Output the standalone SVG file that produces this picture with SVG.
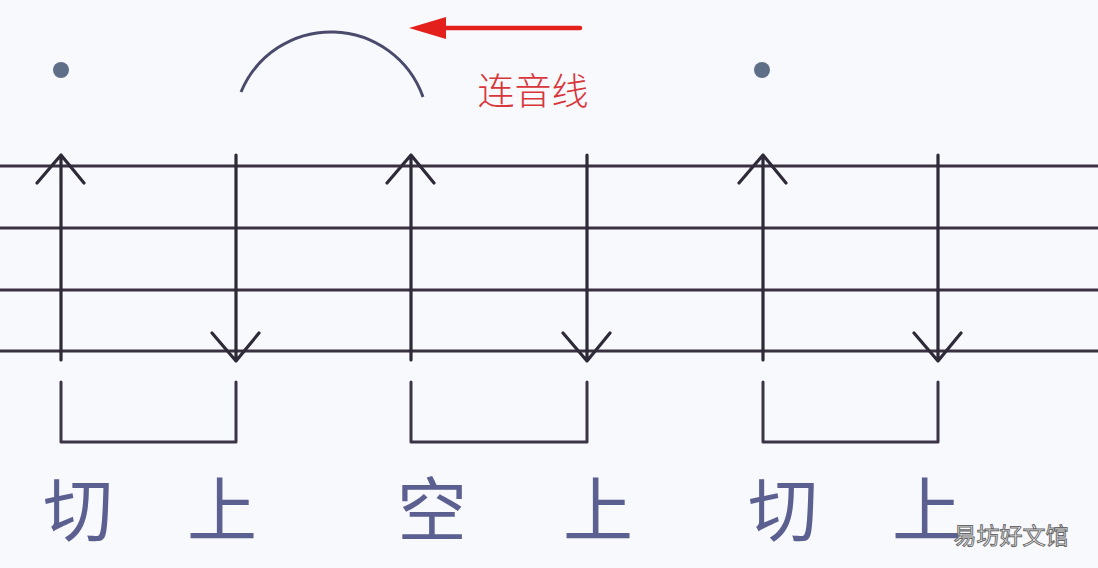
<svg xmlns="http://www.w3.org/2000/svg" width="1098" height="568" viewBox="0 0 1098 568">
<style>
.staff{stroke:#3a3240;stroke-width:3;fill:none}
.stem{stroke:#2e2a38;stroke-width:3.2;fill:none;stroke-linecap:round;stroke-linejoin:round}
.brk{stroke:#3b3346;stroke-width:3;fill:none;stroke-linejoin:round;stroke-linecap:round}
.lbl{font-family:"Noto Sans CJK SC","Noto Sans CJK JP",sans-serif;font-size:70px;fill:#5b6090;text-anchor:middle}
.dot{fill:#5f6f88}
</style>
<rect width="1098" height="568" fill="#f8f9fd"/>
<g id="staff">
<line class="staff" x1="0" y1="166" x2="1098" y2="166"/>
<line class="staff" x1="0" y1="228" x2="1098" y2="228"/>
<line class="staff" x1="0" y1="290" x2="1098" y2="290"/>
<line class="staff" x1="0" y1="351" x2="1098" y2="351"/>
</g>
<g id="dots">
<circle class="dot" cx="61" cy="70" r="8"/>
<circle class="dot" cx="762" cy="70" r="8"/>
</g>
<g id="tie">
<path d="M241,92 A97.5,97.5 0 0 1 423,97" fill="none" stroke="#4a4a6c" stroke-width="3"/>
</g>
<g id="tie-pointer">
<line x1="580" y1="28" x2="440" y2="28" stroke="#e3201c" stroke-width="4.5" stroke-linecap="round"/>
<polygon points="409,28 446,17 446,39" fill="#e3201c"/>
<text x="533" y="105" font-family="'Noto Sans CJK SC',sans-serif" font-size="37" fill="#d8363a" text-anchor="middle" font-weight="300">连音线</text>
</g>
<g id="connectors">
<path class="stem" d="M61,360 V155 M37,183 L61,155 L84,183"/>
<path class="stem" d="M236,155 V361 M212,333 L236,361 L259,333"/>
<path class="stem" d="M411,360 V155 M387,183 L411,155 L434,183"/>
<path class="stem" d="M587,155 V361 M563,333 L587,361 L610,333"/>
<path class="stem" d="M763,360 V155 M739,183 L763,155 L786,183"/>
<path class="stem" d="M938,155 V361 M914,333 L938,361 L961,333"/>
</g>
<g id="brackets">
<path class="brk" d="M61,382 V442 H236 V382"/>
<path class="brk" d="M411,382 V442 H587 V382"/>
<path class="brk" d="M763,382 V442 H938 V382"/>
</g>
<g id="labels">
<text class="lbl" x="78" y="536">切</text>
<text class="lbl" x="222" y="536">上</text>
<text class="lbl" x="432" y="536">空</text>
<text class="lbl" x="598" y="536">上</text>
<text class="lbl" x="783" y="536">切</text>
<text class="lbl" x="927" y="536">上</text>
</g>
<g id="watermark">
<text x="1011" y="544" font-family="'Noto Sans CJK SC',sans-serif" font-size="23" fill="#ffffff" stroke="#6a6a6a" stroke-width="1" text-anchor="middle">易坊好文馆</text>
</g>
</svg>
